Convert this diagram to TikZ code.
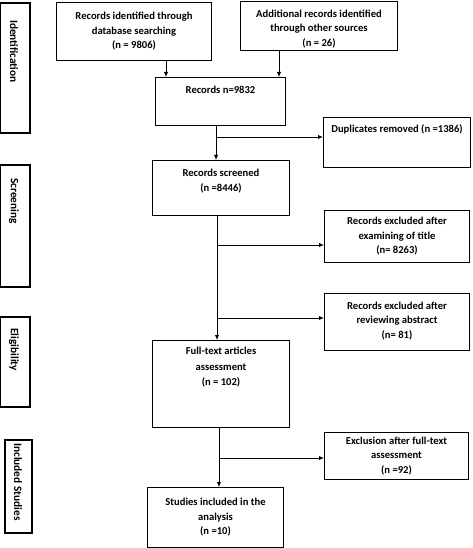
\documentclass[tikz,border=0pt]{standalone}
\usepackage{fontspec}
\setmainfont{Carlito}
\usetikzlibrary{arrows.meta,calc}
\begin{document}
\begin{tikzpicture}[x=1pt,y=-1pt,
  box/.style={draw,line width=1pt},
  side/.style={draw,line width=1.3pt},
  txt/.style={align=center,font=\bfseries\fontsize{10.6}{14.5}\selectfont,inner sep=0pt},
  lab/.style={font=\bfseries\fontsize{11.3}{12}\selectfont,rotate=-90,anchor=west,inner sep=0pt},
  arr/.style={line width=0.9pt,-{Latex[length=5pt,width=4.5pt]}},
  ln/.style={line width=0.9pt}]
\useasboundingbox (0,0) rectangle (473,548);
% side labels
\draw[side] (0,3) rectangle (30,133);
\node[lab] (lid) at (14,20) {Identification};
\draw[side] (0,165) rectangle (30,287);
\node[lab] (lsc) at (14,178) {Screening};
\draw[side] (0,317) rectangle (30,407);
\node[lab] (lel) at (14,328) {Eligibility};
\draw[side] (5,440) rectangle (32,533);
\node[lab] (lin) at (18,443) {Included Studies};
% main boxes
\node[box,minimum width=155,minimum height=58,anchor=north west] (rid) at (56,2) {};
\node[txt] at (rid.center) {Records identified through\\database searching\\(n = 9806)};
\node[box,minimum width=157,minimum height=49,anchor=north west] (add) at (240,1) {};
\node[txt] at ($(add.center)+(0,3)$) {Additional records identified\\through other sources\\(n = 26)};
\node[box,minimum width=130,minimum height=48,anchor=north west] (mer) at (155,77) {};
\node[txt,anchor=north] at ($(mer.north)+(0,9)$) {Records n=9832};
\node[box,minimum width=147,minimum height=50,anchor=north west] (dup) at (323,117) {};
\node[txt,anchor=north] at ($(dup.north)+(0,7)$) {Duplicates removed (n =1386)};
\node[box,minimum width=137,minimum height=55,anchor=north west] (scr) at (152,160) {};
\node[txt,anchor=north] at ($(scr.north)+(0,9)$) {Records screened\\(n =8446)};
\node[box,minimum width=145,minimum height=52,anchor=north west] (ext) at (324,210) {};
\node[txt] at (ext.center) {Records excluded after\\examining of title\\(n= 8263)};
\node[box,minimum width=145,minimum height=57,anchor=north west] (exa) at (324,293) {};
\node[txt] at ($(exa.center)+(0,-1)$) {Records excluded after\\reviewing abstract\\(n= 81)};
\node[box,minimum width=137,minimum height=87,anchor=north west] (ful) at (152,340) {};
\node[txt,anchor=north,font=\bfseries\fontsize{10.6}{15.5}\selectfont] at ($(ful.north)+(0,7)$) {Full-text articles\\assessment\\(n = 102)};
\node[box,minimum width=144,minimum height=47,anchor=north west] (exf) at (324,432) {};
\node[txt] at (exf.center) {Exclusion after full-text\\assessment\\(n =92)};
\node[box,minimum width=136,minimum height=60,anchor=north west] (stu) at (147,487) {};
\node[txt] at (stu.center) {Studies included in the\\analysis\\(n =10)};
% connectors
\coordinate (c1) at (166,0);
\coordinate (c2) at (279,0);
\coordinate (c3) at (216,0);
\coordinate (c4) at (217,0);
\coordinate (c5) at (219,0);
\coordinate (b1) at (0,137);
\coordinate (b2) at (0,245);
\coordinate (b3) at (0,318);
\coordinate (b4) at (0,458);
\draw[arr] (rid.south -| c1) -- (mer.north -| c1);
\draw[arr] (add.south -| c2) -- (mer.north -| c2);
\draw[arr] (mer.south -| c3) -- (scr.north -| c3);
\draw[arr] (b1 -| c3) -- (b1 -| dup.west);
\draw[arr] (scr.south -| c4) -- (ful.north -| c4);
\draw[arr] (b2 -| c4) -- (b2 -| ext.west);
\draw[arr] (b3 -| c4) -- (b3 -| exa.west);
\draw[arr] (ful.south -| c5) -- (stu.north -| c5);
\draw[arr] (b4 -| c5) -- (b4 -| exf.west);
\end{tikzpicture}
\end{document}
